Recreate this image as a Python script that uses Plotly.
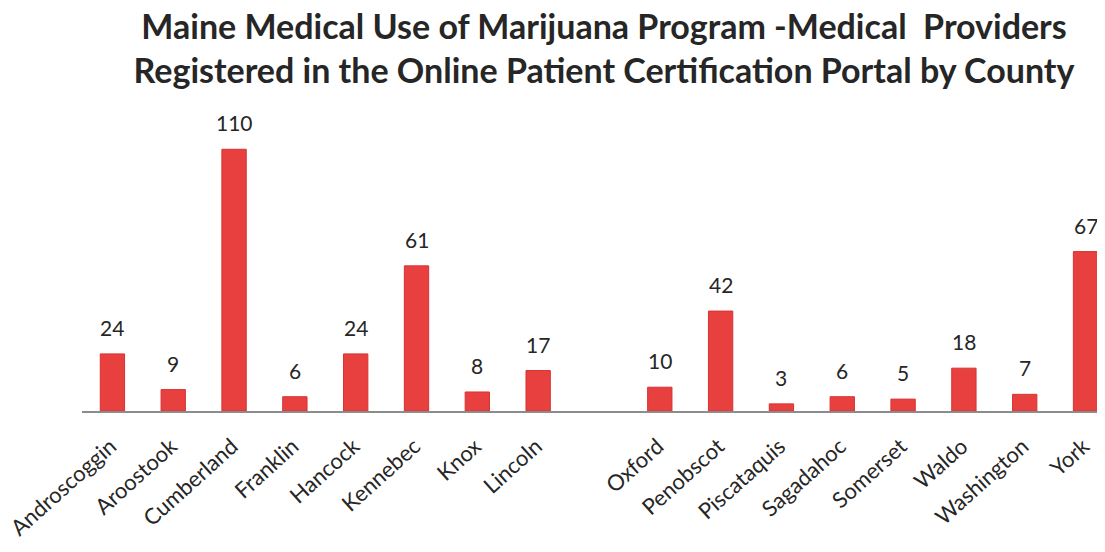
import plotly.graph_objects as go

counties = ["Androscoggin", "Aroostook", "Cumberland", "Franklin", "Hancock", "Kennebec",
            "Knox", "Lincoln", " ", "Oxford", "Penobscot", "Piscataquis", "Sagadahoc",
            "Somerset", "Waldo", "Washington", "York"]
providers = [24, 9, 110, 6, 24, 61, 8, 17, None, 10, 42, 3, 6, 5, 18, 7, 67]

FONT = "Lato"

fig = go.Figure(go.Bar(
    x=counties, y=providers,
    marker=dict(color="#E8403F", line=dict(color="#D83232", width=1)),
    width=0.40,
))

for c, v in zip(counties, providers):
    if v is None:
        continue
    fig.add_annotation(x=c, y=v, text=str(v), showarrow=False, yanchor="bottom",
                       yshift=12, font=dict(family=FONT, size=21, color="#262626"))

fig.update_layout(
    width=1105, height=552,
    paper_bgcolor="white", plot_bgcolor="white",
    margin=dict(l=74, r=8, t=122, b=149),
    showlegend=False,
    title=dict(
        text="Maine Medical Use of Marijuana Program -Medical  Providers<br>Registered in the Online Patient Certification Portal by County",
        x=596 / 1105, xref="container", xanchor="center",
        y=1 - 31 / 552, yref="container", yanchor="top",
        font=dict(family=FONT, size=34, color="#262626", weight="bold"),
    ),
    xaxis=dict(
        type="category", categoryorder="array", categoryarray=counties,
        range=[-0.5, 16.32], showgrid=False, showline=True, linecolor="#8c8c8c", linewidth=2,
        ticks="", tickangle=-42, ticklabelstandoff=12, ticklabelshift=-2, automargin=False,
        tickfont=dict(family=FONT, size=22, color="#262626"),
    ),
    yaxis=dict(range=[0, 118.1], visible=False, showgrid=False, automargin=False),
)

fig.write_html("out.html")
